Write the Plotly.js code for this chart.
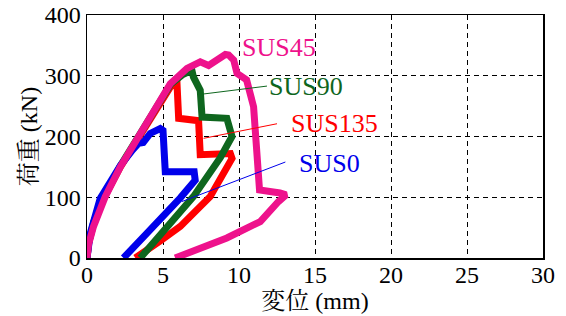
<!DOCTYPE html>
<html>
<head>
<meta charset="utf-8">
<script src="https://cdn.plot.ly/plotly-3.0.1.min.js"></script>
<style>html,body{margin:0;padding:0;background:#fff;}#chart{width:566px;height:316px;}</style>
</head>
<body>
<div id="chart"></div>
<script>
// SUS45 (pink)
const sus45X = [0, 0.1, 0.43, 1.2, 2.19, 3.29, 4.38, 5.48, 6.58, 7.45, 8.0, 8.66, 9.1, 9.32, 9.65, 9.87, 10.5, 10.96, 11.18, 11.35, 12.7, 13.1, 12.6, 11.4, 9.2, 7.45, 5.92, 5.8];
const sus45Y = [0, 22, 52, 101, 150, 194, 238, 287, 312, 323, 317, 326, 335, 334, 326, 304, 293, 249, 145, 112, 107, 104, 93, 60, 33, 16, 3, 0];
// SUS90 (green)
const sus90X = [0, 0.1, 0.45, 1.1, 2.2, 3.3, 4.4, 5.5, 6.3, 6.9, 7.0, 7.45, 7.57, 9.2, 9.54, 8.77, 7.0, 4.82, 3.5];
const sus90Y = [0, 25, 60, 100, 152, 196, 240, 286, 302, 309, 298, 276, 232, 230, 200, 165, 101, 38, 0];
// SUS135 (red)
const sus135X = [0, 0.1, 0.45, 1.1, 2.2, 3.3, 4.4, 5.5, 5.92, 6.03, 7.34, 7.45, 9.43, 9.54, 8.1, 6.14, 4.82, 3.18];
const sus135Y = [0, 24, 58, 98, 150, 194, 238, 282, 288, 230, 226, 170, 172, 164, 101, 52, 28, 0];
// SUS0 (blue)
const sus0X = [0, 0.08, 0.22, 0.87, 2.19, 3.0, 3.4, 3.7, 4.16, 4.82, 5.0, 5.15, 7.05, 7.12, 6.14, 3.95, 2.52, 2.4];
const sus0Y = [0, 25, 41, 98, 152, 178, 189, 190, 205, 213, 210, 142, 142, 128, 99, 41, 3, 0];

// leader lines (start, end)
const lead90X = [7.67, 11.84], lead90Y = [270, 283];
const lead135X = [7.67, 12.5], lead135Y = [197, 221];
const lead0X = [6.25, 13.05], lead0Y = [93, 158];

// label positions
const labels = ["SUS45", "SUS90", "SUS135", "SUS0"];
const labelX = [12.66, 14.41, 16.27, 15.94];
const labelY = [347, 283, 222, 155];

const xTicks = [0, 5, 10, 15, 20, 25, 30];
const yTicks = [0, 100, 200, 300, 400];

const cPink = "rgb(238,18,140)";
const cGreen = "rgb(14,102,30)";
const cRed = "rgb(255,0,0)";
const cBlue = "rgb(0,0,235)";
const colors = [cPink, cGreen, cRed, cBlue];

const lw = 7;
function curve(x, y, c) {
  return {x: x, y: y, mode: "lines", type: "scatter", line: {color: c, width: lw, shape: "linear"}, hoverinfo: "skip"};
}
function lead(x, y, c) {
  return {x: x, y: y, mode: "lines", type: "scatter", line: {color: c, width: 1}, hoverinfo: "skip"};
}

const data = [
  curve(sus135X, sus135Y, cRed),
  curve(sus90X, sus90Y, cGreen),
  curve(sus0X, sus0Y, cBlue),
  curve(sus45X, sus45Y, cPink),
  lead(lead90X, lead90Y, cGreen),
  lead(lead135X, lead135Y, cRed),
  lead(lead0X, lead0Y, cBlue)
];

const serif = "Liberation Serif";
const titleFont = "'Liberation Serif', 'Noto Serif CJK JP', 'Noto Sans CJK JP', serif";

const annotations = labels.map((t, i) => ({
  x: labelX[i], y: labelY[i], xref: "x", yref: "y", text: t, showarrow: false,
  font: {family: serif, size: 26, color: colors[i]}, xanchor: "center", yanchor: "middle"
}));

const layout = {
  width: 566, height: 316,
  margin: {l: 87, r: 23, t: 15, b: 58, pad: 0},
  paper_bgcolor: "#fff", plot_bgcolor: "#fff",
  showlegend: false,
  font: {family: serif, size: 24, color: "#000"},
  xaxis: {
    range: [0, 30], tickvals: xTicks, ticktext: xTicks.map(String),
    showgrid: true, gridcolor: "#000", gridwidth: 1, griddash: "5px,4px",
    zeroline: false, showline: true, mirror: true, linecolor: "#000", linewidth: 1.5,
    ticks: "", ticklabelstandoff: -5, tickfont: {family: serif, size: 24, color: "#000"},
    title: {text: "変位 (mm)", font: {family: titleFont, size: 24, color: "#000"}, standoff: 0},
    fixedrange: true
  },
  yaxis: {
    range: [0, 400], tickvals: yTicks, ticktext: yTicks.map(String),
    showgrid: true, gridcolor: "#000", gridwidth: 1, griddash: "5px,4px",
    zeroline: false, showline: true, mirror: true, linecolor: "#000", linewidth: 1.5,
    ticks: "", tickfont: {family: serif, size: 24, color: "#000"},
    title: {text: "荷重 (kN)", font: {family: titleFont, size: 24, color: "#000"}, standoff: 0},
    fixedrange: true
  },
  annotations: annotations
};

Plotly.newPlot("chart", data, layout, {displayModeBar: false, staticPlot: true});
</script>
</body>
</html>
